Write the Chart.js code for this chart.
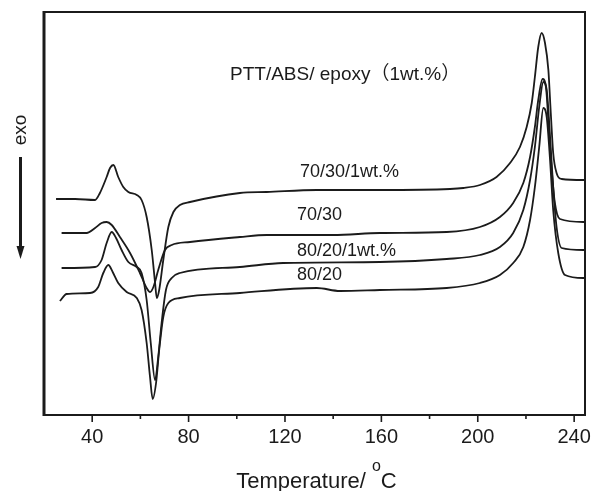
<!DOCTYPE html>
<html>
<head>
<meta charset="utf-8">
<title>DSC PTT/ABS/epoxy</title>
<script src="https://cdn.jsdelivr.net/npm/chart.js@4.4.1/dist/chart.umd.min.js"></script>
<style>
  html, body { margin: 0; padding: 0; background: #fff; }
  canvas { display: block; }
</style>
</head>
<body>
<canvas id="dscChart" width="592" height="491"></canvas>
<script>
// temperature (C) and heat flow (arbitrary units, curves offset)
var temp7030E = [25.0, 32.9, 41.2, 43.2, 46.0, 47.4, 48.8, 50.8, 52.9, 55.0, 58.5, 60.5, 62.6, 64.7, 66.1, 66.8, 67.8, 69.5, 71.6, 73.7, 76.4, 80.6, 101.3, 112.4, 133.2, 159.4, 188.5, 194.0, 200.9, 207.8, 213.4, 217.5, 220.3, 222.4, 223.7, 225.1, 226.5, 227.9, 229.3, 230.3, 231.3, 232.7, 234.8, 243.8, 244.5];
var flow7030E = [216, 216, 215, 222, 238, 247, 250, 238, 228, 223, 220, 215, 198, 165, 132, 117, 125, 155, 188, 203, 210, 213, 222, 223, 225, 225, 226, 227, 230, 238, 252, 268, 288, 312, 338, 368, 382, 372, 345, 302, 262, 242, 236, 235, 235];

var temp7030 = [27.3, 37.7, 41.2, 43.9, 46.0, 48.1, 51.5, 55.7, 59.8, 62.6, 64.0, 65.4, 67.4, 70.2, 73.0, 80.6, 101.3, 112.4, 139.9, 159.4, 187.1, 200.9, 209.2, 214.7, 218.9, 221.7, 223.7, 225.1, 226.9, 228.3, 229.3, 230.7, 232.0, 234.1, 243.8, 244.5];
var flow7030 = [182, 182, 187, 192, 193, 190, 178, 162, 142, 127, 123, 128, 145, 165, 170, 173, 178, 180, 180, 182, 183, 188, 198, 212, 232, 258, 288, 315, 336, 328, 295, 245, 212, 196, 193, 193];

var temp8020E = [27.3, 41.2, 43.9, 46.0, 48.1, 49.9, 52.2, 55.0, 58.5, 60.5, 62.6, 64.3, 66.1, 67.4, 68.8, 70.6, 73.0, 76.4, 101.3, 119.2, 159.4, 187.1, 200.9, 209.2, 214.7, 218.9, 221.7, 223.7, 225.5, 227.2, 228.6, 230.0, 231.3, 232.7, 234.8, 243.8, 244.5];
var flow8020E = [147, 148, 155, 172, 183, 177, 165, 153, 148, 142, 115, 72, 35, 58, 92, 125, 137, 142, 148, 152, 153, 156, 160, 168, 182, 205, 235, 268, 308, 333, 325, 278, 228, 188, 167, 165, 165];

var temp8020 = [26.6, 29.4, 39.1, 42.5, 44.6, 46.7, 48.5, 50.8, 54.3, 58.5, 60.5, 62.6, 64.0, 65.1, 66.5, 67.8, 69.5, 71.6, 76.4, 101.3, 133.2, 142.8, 159.4, 187.1, 200.9, 209.2, 214.7, 218.9, 221.7, 223.7, 225.5, 227.2, 228.6, 230.0, 231.3, 233.4, 236.2, 243.8, 244.5];
var flow8020 = [114, 121, 122, 128, 142, 150, 143, 132, 123, 117, 105, 72, 38, 16, 32, 65, 98, 112, 117, 122, 127, 124, 125, 127, 132, 140, 152, 168, 195, 228, 268, 307, 298, 255, 205, 162, 140, 137, 137];

var seriesNames = ['70/30/1wt.%', '70/30', '80/20/1wt.%', '80/20'];
var seriesTemps = [temp7030E, temp7030, temp8020E, temp8020];
var seriesFlows = [flow7030E, flow7030, flow8020E, flow8020];

// where the curve names sit (temperature, heat flow)
var nameTemps = [126.2, 125, 125, 125];
var nameFlows = [243, 200, 164, 140];

// bottom axis ticks: labelled every 40, minor marks in between
var xTickValues = [20, 40, 60, 80, 100, 120, 140, 160, 180, 200, 220, 240];
var FONT = '"Liberation Sans", Arial, "Noto Sans CJK SC", sans-serif';

function toPoints(xs, ys) {
    return xs.map(function(x, i) { return { x: x, y: ys[i] }; });
}

var datasets = seriesNames.map(function(name, i) {
    return {
        label: name,
        data: toPoints(seriesTemps[i], seriesFlows[i]),
        borderColor: '#1b1b1b',
        borderWidth: 1.8,
        pointRadius: 0,
        fill: false,
        cubicInterpolationMode: 'monotone'
    };
});

// frame, tick marks, labels and the exo arrow
var decorations = {
    id: 'decorations',
    afterDraw: function(chart) {
        var c = chart.ctx;
        var a = chart.chartArea;
        var xs = chart.scales.x;
        var ys = chart.scales.y;
        c.save();
        c.strokeStyle = '#1b1b1b';

        // box
        c.lineWidth = 2;
        c.strokeRect(a.left, a.top, a.right - a.left, a.bottom - a.top);
        c.lineWidth = 3;
        c.beginPath();
        c.moveTo(a.left, a.top - 1);
        c.lineTo(a.left, a.bottom + 1);
        c.stroke();

        // tick marks, major every 40, minor every 20
        c.lineWidth = 1.6;
        xs.ticks.forEach(function(t) {
            var v = t.value;
            if (v <= xs.min) return;
            var px = xs.getPixelForValue(v);
            var len = (v % 40 === 0) ? 7 : 4;
            c.beginPath();
            c.moveTo(px, a.bottom);
            c.lineTo(px, a.bottom + len);
            c.stroke();
        });

        // curve names
        c.fillStyle = '#1b1b1b';
        c.textBaseline = 'middle';
        c.textAlign = 'left';
        c.font = '18px ' + FONT;
        seriesNames.forEach(function(name, i) {
            c.fillText(name, xs.getPixelForValue(nameTemps[i]), ys.getPixelForValue(nameFlows[i]));
        });

        // sample title
        c.font = '19px ' + FONT;
        c.fillText('PTT/ABS/ epoxy\uFF081wt.%\uFF09', xs.getPixelForValue(97.2), ys.getPixelForValue(340));

        // x axis title with superscript
        c.textBaseline = 'alphabetic';
        var main = 'Temperature/ ';
        c.font = '22px ' + FONT;
        var w1 = c.measureText(main).width;
        var w3 = c.measureText('C').width;
        c.font = '16px ' + FONT;
        var w2 = c.measureText('o').width;
        var x0 = (a.left + a.right) / 2 - (w1 + w2 + w3) / 2 + 2;
        var base = 488;
        c.font = '22px ' + FONT;
        c.fillText(main, x0, base);
        c.font = '16px ' + FONT;
        c.fillText('o', x0 + w1, base - 17);
        c.font = '22px ' + FONT;
        c.fillText('C', x0 + w1 + w2, base);

        // exo label and arrow
        c.save();
        c.translate(21, 130);
        c.rotate(-Math.PI / 2);
        c.textAlign = 'center';
        c.textBaseline = 'middle';
        c.font = '19px ' + FONT;
        c.fillText('exo', 0, 0);
        c.restore();

        c.lineWidth = 3;
        c.beginPath();
        c.moveTo(20.5, 157);
        c.lineTo(20.5, 250);
        c.stroke();
        c.beginPath();
        c.moveTo(16.5, 246);
        c.lineTo(24.5, 246);
        c.lineTo(20.5, 259);
        c.closePath();
        c.fill();

        c.restore();
    }
};

var ctx = document.getElementById('dscChart').getContext('2d');
var dscChart = new Chart(ctx, {
    type: 'line',
    data: { datasets: datasets },
    options: {
        responsive: false,
        animation: false,
        layout: { padding: { left: 44, right: 7, top: 12, bottom: 0 } },
        plugins: {
            legend: { display: false },
            tooltip: { enabled: false }
        },
        scales: {
            x: {
                type: 'linear',
                min: 20,
                max: 244.5,
                grid: { display: false, drawTicks: false },
                border: { display: false },
                afterBuildTicks: function(scale) {
                    scale.ticks = xTickValues.map(function(v) { return { value: v }; });
                },
                ticks: {
                    autoSkip: false,
                    maxRotation: 0,
                    padding: 10,
                    color: '#1b1b1b',
                    font: { family: FONT, size: 20 },
                    callback: function(v) { return (v % 40 === 0) ? String(v) : ''; }
                },
                afterFit: function(scale) {
                    scale.height = 76;
                    // the 240 label may run past the frame, as in the original
                    scale.paddingLeft = 0;
                    scale.paddingRight = 0;
                }
            },
            y: {
                display: false,
                min: 0,
                max: 403
            }
        }
    },
    plugins: [decorations]
});
</script>
</body>
</html>
